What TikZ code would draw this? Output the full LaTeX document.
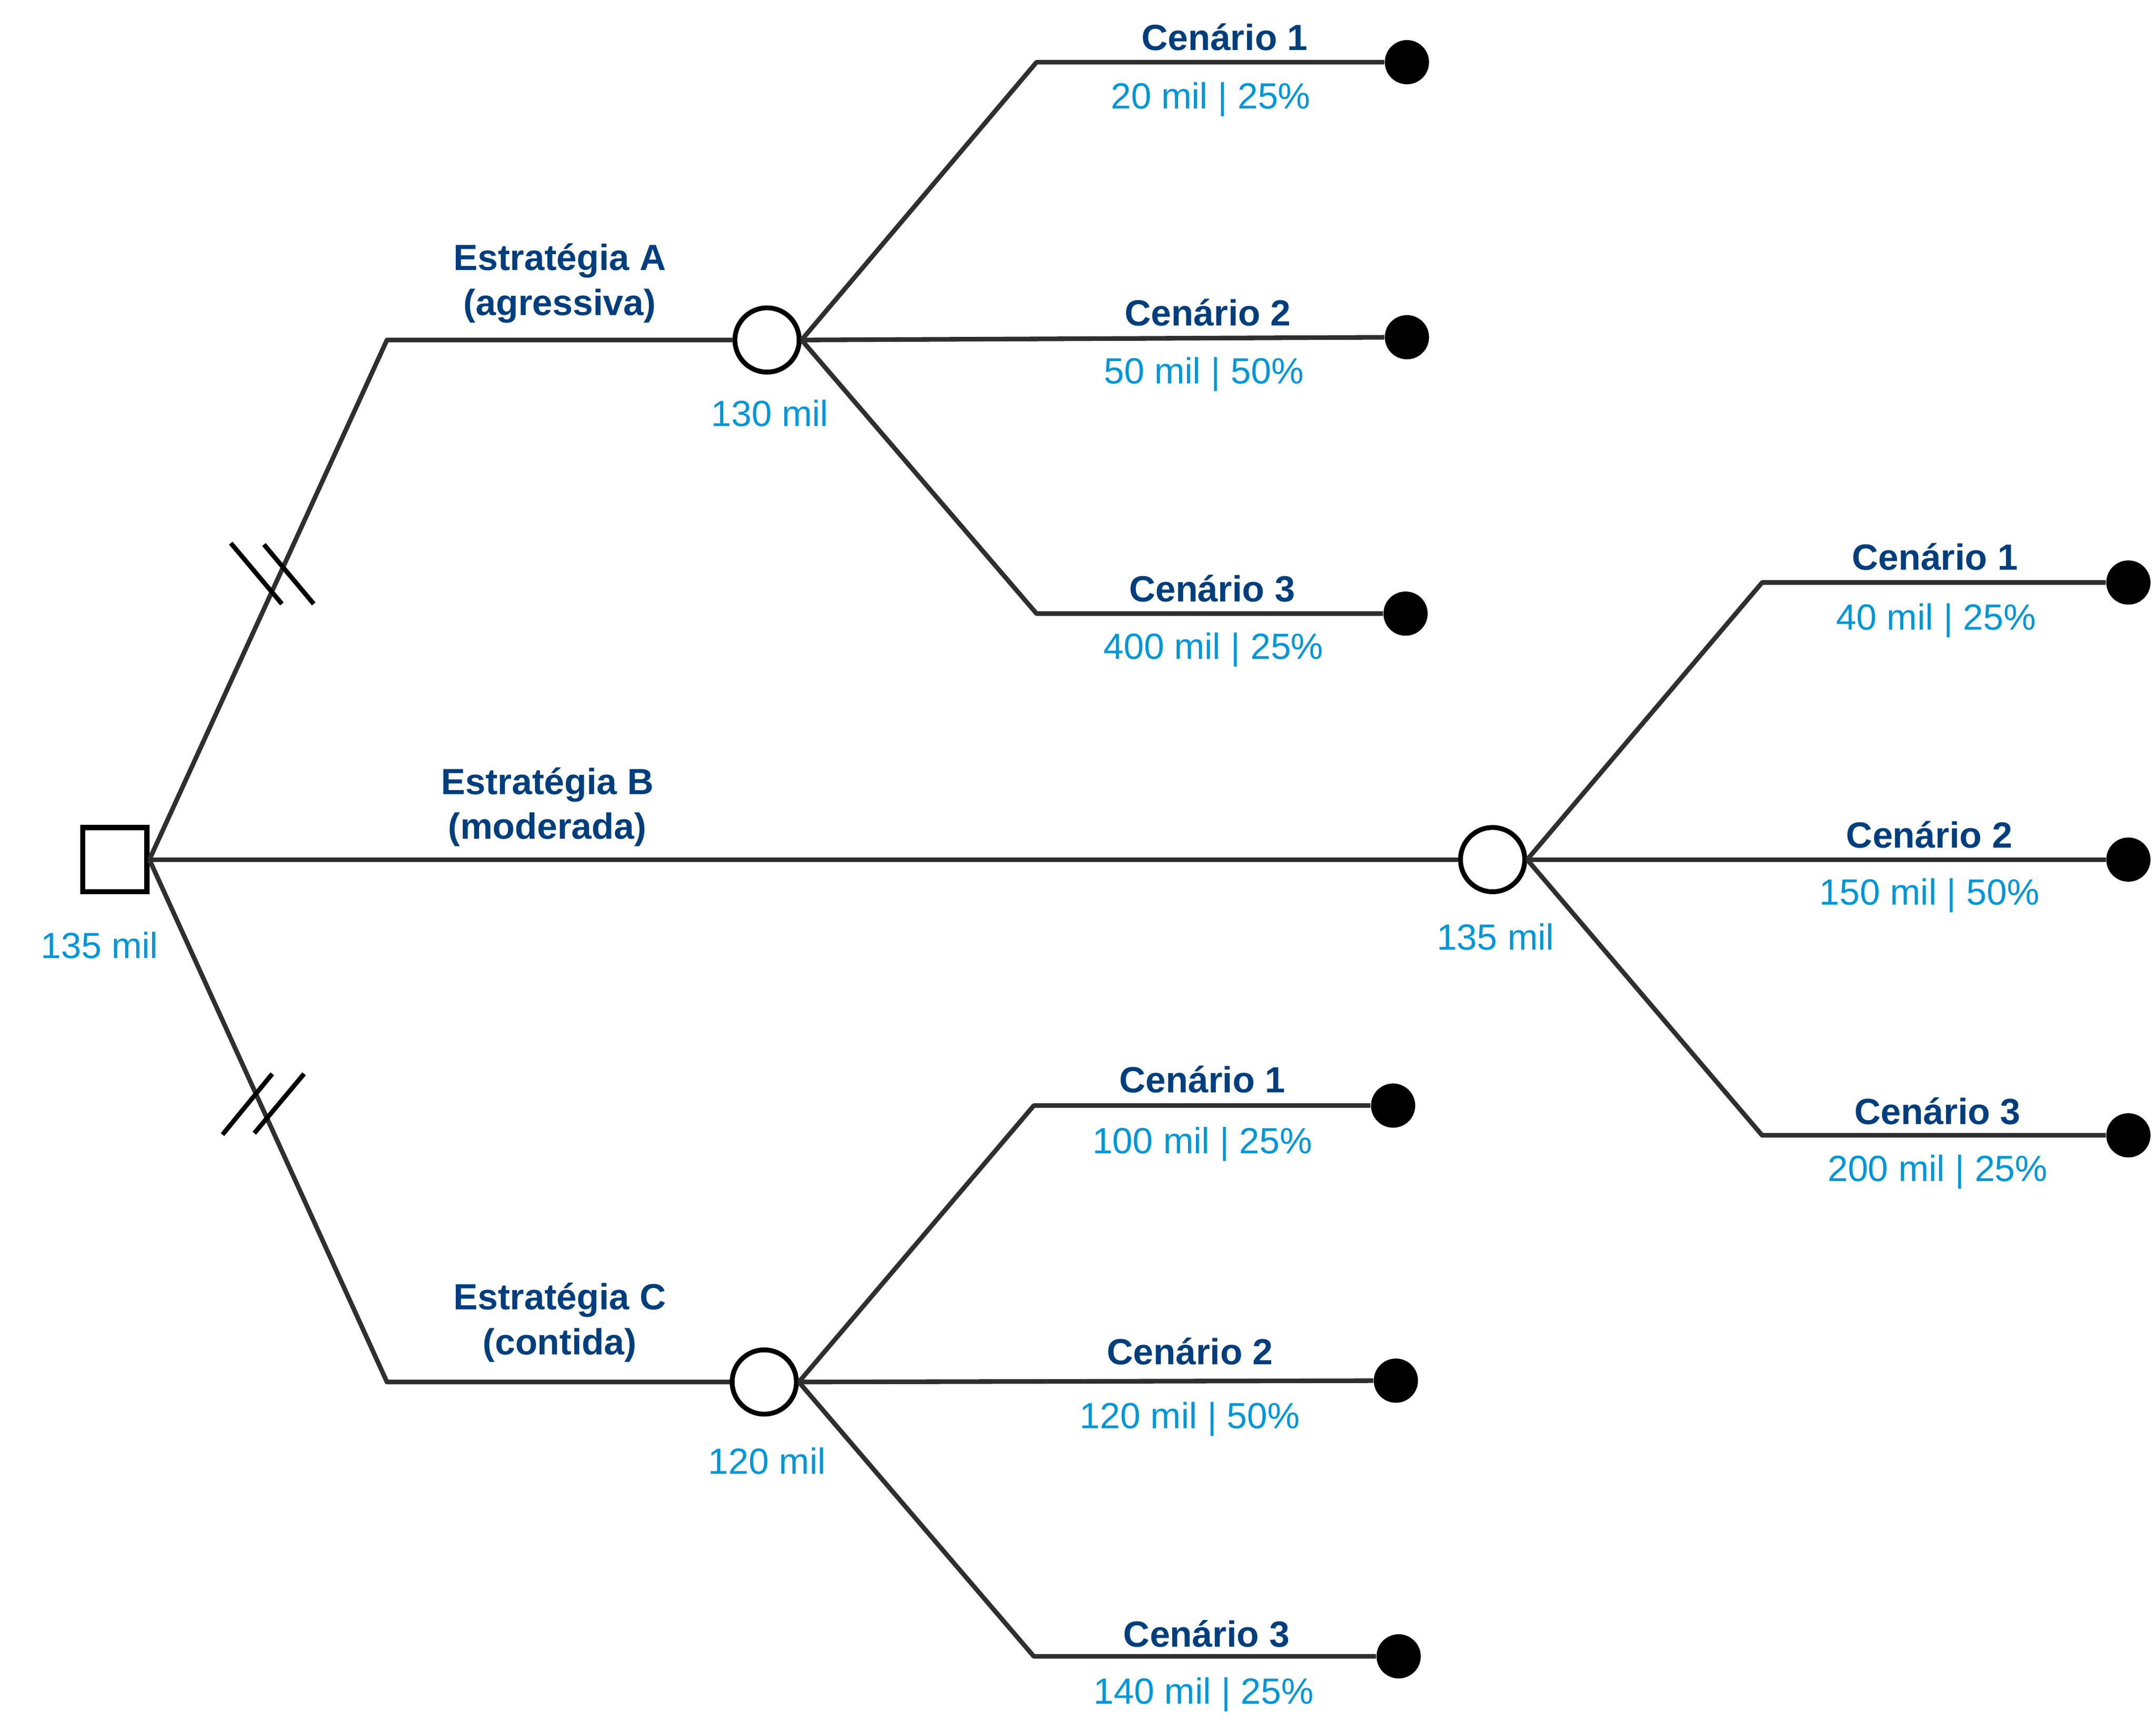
\documentclass[tikz,border=0pt]{standalone}
\usepackage{fontspec}
\setmainfont{Liberation Sans}
\usepackage{tikz}
\usetikzlibrary{shapes,arrows,positioning}
\definecolor{DarkBlue}{RGB}{0,62,125}
\definecolor{LightBlue}{RGB}{0,150,218}
\definecolor{edge}{RGB}{47,47,47}
\tikzset{decision/.style={rectangle, draw, fill=white, line width=2.1pt, minimum size=0.93cm, inner sep=0pt}}
\tikzset{chance/.style={circle, draw, fill=white, line width=2pt, minimum size=0.93cm, inner sep=0pt}}
\tikzset{outcome/.style={circle, fill=black, minimum size=0.64cm, inner sep=0pt}}
\tikzset{strategy/.style={text=DarkBlue, font=\fontsize{15}{18.5}\selectfont\bfseries, align=center, inner sep=0pt}}
\tikzset{scenario/.style={text=DarkBlue, font=\fontsize{15}{18.5}\selectfont\bfseries, inner sep=0pt}}
\tikzset{value/.style={text=LightBlue, font=\fontsize{15}{18.5}\selectfont, inner sep=0pt}}
\tikzset{line/.style={draw, edge, line width=1.9pt, line join=round}}
\tikzset{cut/.style={draw, black, line width=1.9pt}}

\begin{document}
\begin{tikzpicture}[x=0.02cm, y=-0.02cm]
        \useasboundingbox (0,0) rectangle (1560,1244.5);

        \node[decision]   (dec) at (83,622) {};
        \node[chance] (chA) at (555,246) {};
        \node[chance] (chB) at (1080,622) {};
        \node[chance] (chC) at (553,1000) {};

        \coordinate (kneeA) at (280,246);
        \coordinate (kneeC) at (280,1000);
        \coordinate (kneeA1) at (750,45);
        \coordinate (kneeA3) at (750,444);
        \coordinate (kneeB1) at (1275,421.5);
        \coordinate (kneeB3) at (1275,821.5);
        \coordinate (kneeC1) at (748,800);
        \coordinate (kneeC3) at (748,1198.5);

        \node[outcome] (endA1) at (1018,45) {};
        \node[outcome] (endA2) at (1018,244) {};
        \node[outcome] (endA3) at (1017,444) {};
        \node[outcome] (endB1) at (1540,421.5) {};
        \node[outcome] (endB2) at (1540,622) {};
        \node[outcome] (endB3) at (1540,821.5) {};
        \node[outcome] (endC1) at (1008,800) {};
        \node[outcome] (endC2) at (1010,999) {};
        \node[outcome] (endC3) at (1012,1198.5) {};

        % estrategias
        \path[line] (dec.east) -- (kneeA) -- (chA);
        \path[line] (dec.east) -- (chB);
        \path[line] (dec.east) -- (kneeC) -- (chC);

        % cenarios
        \path[line] (chA.east) -- (kneeA1) -- (endA1);
        \path[line] (chA.east) -- (endA2);
        \path[line] (chA.east) -- (kneeA3) -- (endA3);
        \path[line] (chB.east) -- (kneeB1) -- (endB1);
        \path[line] (chB.east) -- (endB2);
        \path[line] (chB.east) -- (kneeB3) -- (endB3);
        \path[line] (chC.east) -- (kneeC1) -- (endC1);
        \path[line] (chC.east) -- (endC2);
        \path[line] (chC.east) -- (kneeC3) -- (endC3);

        % ramos cortados
        \path[cut] (167,393) -- (204,437);
        \path[cut] (191,394) -- (227,437);
        \path[cut] (161,821) -- (197,777);
        \path[cut] (184,820) -- (220,777);

        \node[strategy] (labA) at (405,205) {Estratégia A\\(agressiva)};
        \node[strategy] (labB) at (396,584) {Estratégia B\\(moderada)};
        \node[strategy] (labC) at (405,957) {Estratégia C\\(contida)};

        \node[value] (valDec) at (72,684) {135 mil};
        \node[value] (valA) at (557,299) {130 mil};
        \node[value] (valB) at (1082,678) {135 mil};
        \node[value] (valC) at (555,1057) {120 mil};

        \node[scenario] (cenA1) at (886,27) {Cenário 1};
        \node[value] (resA1) at (876,72) {20 mil | 25\%};
        \node[scenario] (cenA2) at (874,226) {Cenário 2};
        \node[value] (resA2) at (871,271) {50 mil | 50\%};
        \node[scenario] (cenA3) at (877,426) {Cenário 3};
        \node[value] (resA3) at (878,470) {400 mil | 25\%};

        \node[scenario] (cenB1) at (1400,403) {Cenário 1};
        \node[value] (resB1) at (1401,449) {40 mil | 25\%};
        \node[scenario] (cenB2) at (1396,604) {Cenário 2};
        \node[value] (resB2) at (1396,648) {150 mil | 50\%};
        \node[scenario] (cenB3) at (1402,804) {Cenário 3};
        \node[value] (resB3) at (1402,848) {200 mil | 25\%};

        \node[scenario] (cenC1) at (870,781) {Cenário 1};
        \node[value] (resC1) at (870,828) {100 mil | 25\%};
        \node[scenario] (cenC2) at (861,978) {Cenário 2};
        \node[value] (resC2) at (861,1027) {120 mil | 50\%};
        \node[scenario] (cenC3) at (873,1182) {Cenário 3};
        \node[value] (resC3) at (871,1226) {140 mil | 25\%};

     \end{tikzpicture}
\end{document}
